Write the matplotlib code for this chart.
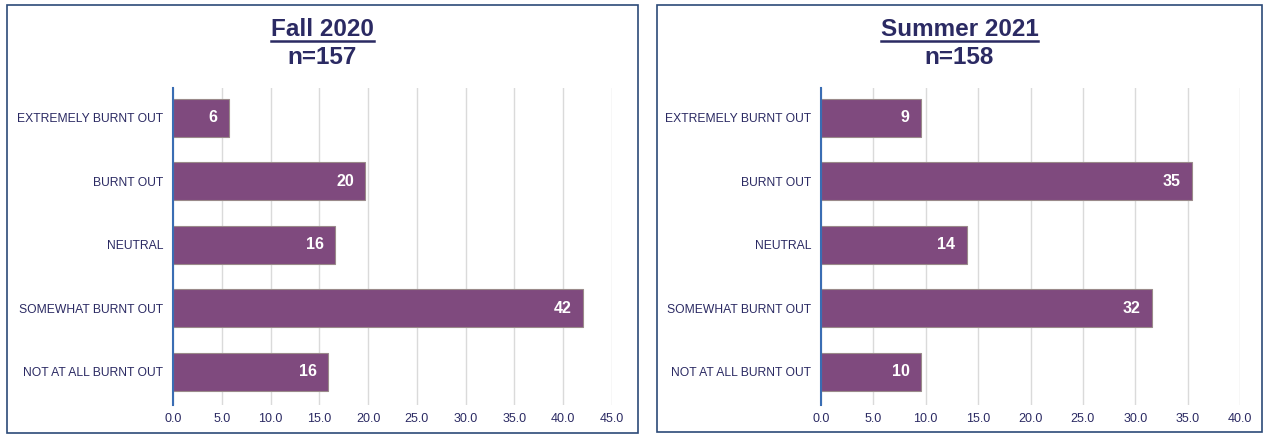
import matplotlib
matplotlib.use("Agg")
import matplotlib.pyplot as plt
from matplotlib.patches import Rectangle
from matplotlib.lines import Line2D

plt.rcParams['font.family'] = ['Liberation Sans', 'DejaVu Sans']

categories = ["EXTREMELY BURNT OUT", "BURNT OUT", "NEUTRAL",
              "SOMEWHAT BURNT OUT", "NOT AT ALL BURNT OUT"]

fall_values = [5.7, 19.7, 16.6, 42.0, 15.9]
fall_labels = ["6", "20", "16", "42", "16"]
summer_values = [9.5, 35.4, 13.9, 31.6, 9.5]
summer_labels = ["9", "35", "14", "32", "10"]

fall_ticks = [0, 5, 10, 15, 20, 25, 30, 35, 40, 45]
summer_ticks = [0, 5, 10, 15, 20, 25, 30, 35, 40]

titles = ["Fall 2020", "Summer 2021"]
subtitles = ["n=157", "n=158"]

W, H = 1265, 436
fig = plt.figure(figsize=(W / 100, H / 100), dpi=100)

NAVY = "#2b2a63"
BAR = "#7f4a7e"
BAR_EDGE = "#9a8a8a"
GRID = "#dadada"
AXIS = "#3a6db3"
BOX = "#2c4a78"

def fx(px):
    return px / W

def fy(py):
    return 1 - py / H

panels = [
    dict(box=(7, 5, 638, 433), ax=(173, 88, 612, 405), values=fall_values,
         labels=fall_labels, ticks=fall_ticks, xmax=45, title=titles[0],
         sub=subtitles[0]),
    dict(box=(657, 5, 1262, 432), ax=(821, 88, 1240, 405), values=summer_values,
         labels=summer_labels, ticks=summer_ticks, xmax=40, title=titles[1],
         sub=subtitles[1]),
]

fig.canvas.draw()
renderer = fig.canvas.get_renderer()

for p in panels:
    x0, y0, x1, y1 = p["box"]
    fig.add_artist(Rectangle((fx(x0), fy(y1)), fx(x1 - x0), (y1 - y0) / H,
                             transform=fig.transFigure, fill=False,
                             edgecolor=BOX, linewidth=1.2))
    ax0, ay0, ax1, ay1 = p["ax"]
    ax = fig.add_axes([fx(ax0), fy(ay1), fx(ax1 - ax0), (ay1 - ay0) / H])
    ypos = list(range(len(categories)))
    ax.barh(ypos, p["values"], height=0.6, color=BAR, edgecolor=BAR_EDGE,
            linewidth=0.8, zorder=3)
    ax.set_ylim(4.52, -0.47)
    ax.set_xlim(0, p["xmax"])
    ax.set_yticks(ypos)
    ax.set_yticklabels(categories, fontsize=8.7, color=NAVY)
    ax.set_xticks(p["ticks"])
    ax.set_xticklabels([f"{t:.1f}" for t in p["ticks"]], fontsize=9, color=NAVY)
    ax.tick_params(axis="y", length=0, pad=7)
    ax.tick_params(axis="x", length=0, pad=6)
    for s in ["top", "right", "bottom"]:
        ax.spines[s].set_visible(False)
    ax.spines["left"].set_color(AXIS)
    ax.spines["left"].set_linewidth(1.5)
    ax.spines["left"].set_zorder(4)
    ax.grid(axis="x", color=GRID, linewidth=1.0, zorder=0)
    ax.set_axisbelow(True)
    for yv, v, lab in zip(ypos, p["values"], p["labels"]):
        ax.annotate(lab, xy=(v, yv), xytext=(-8, 0), textcoords="offset points",
                    ha="right", va="center", color="white", fontsize=11.5,
                    fontweight="bold", zorder=5)
    cx = fx((x0 + x1) / 2)
    t = fig.text(cx, fy(30), p["title"], ha="center", va="center",
                 fontsize=17.5, fontweight="bold", color=NAVY)
    fig.text(cx, fy(58), p["sub"], ha="center", va="center",
             fontsize=17.5, fontweight="bold", color=NAVY)
    bb = t.get_window_extent(renderer=renderer)
    bb = bb.transformed(fig.transFigure.inverted())
    fig.add_artist(Line2D([bb.x0, bb.x1], [bb.y0 + 0.002, bb.y0 + 0.002],
                          transform=fig.transFigure, color=NAVY, linewidth=1.8))

fig.savefig("out.png", dpi=100)
